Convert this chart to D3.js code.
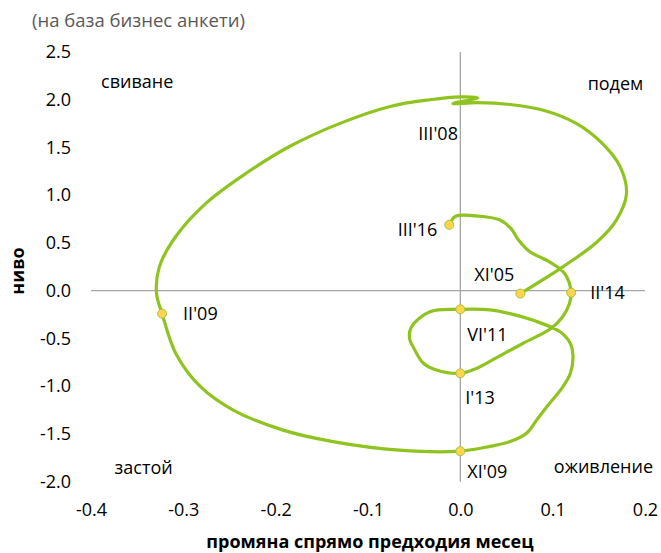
<html>
<head>
<meta charset="utf-8">
<title>Business cycle clock</title>
<script src="https://d3js.org/d3.v7.min.js"></script>
<style>
body { margin: 0; background: white; }
text { font-family: "Open Sans", "Noto Sans", sans-serif; fill: #000; }
</style>
</head>
<body>
<svg id="chart" width="661" height="553"></svg>
<script>
// change vs previous month (x) and level (y)
var changeX = [0.065, 0.111, 0.148, 0.169, 0.180, 0.173, 0.154, 0.126, 0.090, 0.054, 0.018, -0.008,
  0.019, 0.000, -0.033, -0.076, -0.131, -0.185, -0.232, -0.275, -0.308, -0.326, -0.329, -0.323,
  -0.308, -0.282, -0.246, -0.192, -0.138, -0.066, 0.000, 0.032, 0.054, 0.072, 0.083, 0.095,
  0.110, 0.119, 0.122, 0.119, 0.108, 0.079, 0.054, 0.032, 0.000, -0.033, -0.053, -0.055,
  -0.051, -0.040, -0.026, 0.000, 0.016, 0.032, 0.068, 0.099, 0.111, 0.118, 0.120, 0.113,
  0.097, 0.075, 0.063, 0.055, 0.043, 0.021, -0.005, -0.012];
var levelY = [-0.03, 0.25, 0.51, 0.74, 1.02, 1.30, 1.54, 1.75, 1.89, 1.95, 1.97, 1.96,
  2.02, 2.03, 2.00, 1.93, 1.75, 1.51, 1.23, 0.92, 0.57, 0.25, -0.03, -0.24,
  -0.66, -1.00, -1.25, -1.46, -1.58, -1.67, -1.68, -1.63, -1.58, -1.49, -1.35, -1.20,
  -1.02, -0.87, -0.69, -0.55, -0.43, -0.31, -0.24, -0.20, -0.195, -0.22, -0.38, -0.50,
  -0.59, -0.76, -0.83, -0.865, -0.82, -0.74, -0.55, -0.39, -0.27, -0.14, -0.02, 0.18,
  0.30, 0.41, 0.53, 0.65, 0.74, 0.78, 0.78, 0.69];

// labelled months (index into the series)
var markIdx = [0, 11, 23, 30, 44, 51, 58, 67];
var markText = ["XI'05", "III'08", "II'09", "XI'09", "VI'11", "I'13", "II'14", "III'16"];
var markShown = [true, false, true, true, true, true, true, true];

var xTicks = [-0.4, -0.3, -0.2, -0.1, 0.0, 0.1, 0.2];
var yTicks = [-2.0, -1.5, -1.0, -0.5, 0.0, 0.5, 1.0, 1.5, 2.0, 2.5];

var quadNames = ["свиване", "подем", "застой", "оживление"];

var svg = d3.select("#chart");
var x = d3.scaleLinear().domain([-0.4, 0.2]).range([91, 645]);
var y = d3.scaleLinear().domain([-2.0, 2.5]).range([481.7, 52]);

var fmt = function(d) { return d.toFixed(1); };

// tick labels
svg.append("g")
    .attr("transform", "translate(91,0)")
    .call(d3.axisLeft(y).tickValues(yTicks).tickFormat(fmt).tickSize(0).tickPadding(20))
    .call(function(g) { g.select(".domain").remove(); })
    .selectAll("text").style("font-size", "18px").attr("fill", "#000");

svg.append("g")
    .attr("transform", "translate(0,481.7)")
    .call(d3.axisBottom(x).tickValues(xTicks).tickFormat(fmt).tickSize(0).tickPadding(22))
    .call(function(g) { g.select(".domain").remove(); })
    .selectAll("text").style("font-size", "18px").attr("fill", "#000");

// cross axes through zero
svg.append("line")
    .attr("x1", x(-0.4)).attr("x2", x(0.2))
    .attr("y1", y(0)).attr("y2", y(0))
    .attr("stroke", "#a6a6a6").attr("stroke-width", 1.3);
svg.append("line")
    .attr("x1", x(0)).attr("x2", x(0))
    .attr("y1", y(2.5)).attr("y2", y(-2.0))
    .attr("stroke", "#a6a6a6").attr("stroke-width", 1.3);

// quadrant names
var quadPos = [[-0.35, 2.185], [0.168, 2.17], [-0.343, -1.857], [0.155, -1.846]];
svg.selectAll(".quad")
    .data(quadNames)
    .enter().append("text")
    .attr("class", "quad")
    .attr("x", function(d, i) { return x(quadPos[i][0]); })
    .attr("y", function(d, i) { return y(quadPos[i][1]); })
    .attr("dy", "0.35em")
    .attr("text-anchor", "middle")
    .style("font-size", "18px")
    .text(function(d) { return d; });

// the curve
var pts = changeX.map(function(v, i) { return [v, levelY[i]]; });
var line = d3.line()
    .x(function(d) { return x(d[0]); })
    .y(function(d) { return y(d[1]); })
    .curve(d3.curveCatmullRom.alpha(0.5));

svg.append("path")
    .datum(pts)
    .attr("d", line)
    .attr("fill", "none")
    .attr("stroke", "#8fc31f")
    .attr("stroke-width", 3.2)
    .attr("stroke-linecap", "round")
    .attr("stroke-linejoin", "round");

// markers
svg.selectAll(".mark")
    .data(markIdx.filter(function(d, i) { return markShown[i]; }))
    .enter().append("circle")
    .attr("class", "mark")
    .attr("cx", function(d) { return x(changeX[d]); })
    .attr("cy", function(d) { return y(levelY[d]); })
    .attr("r", 4.5)
    .attr("fill", "#ffd54f")
    .attr("stroke", "#a6c43a")
    .attr("stroke-width", 1);

// label offsets: dx, dy, anchor
var lblOff = [[-26, -19, "middle"], [5, 30, "end"], [21, 0, "start"], [7, 21, "start"],
  [7, 25, "start"], [5, 24, "start"], [19, 0, "start"], [-12, 5, "end"]];
svg.selectAll(".lbl")
    .data(markIdx)
    .enter().append("text")
    .attr("class", "lbl")
    .attr("x", function(d, i) { return x(changeX[d]) + lblOff[i][0]; })
    .attr("y", function(d, i) { return y(levelY[d]) + lblOff[i][1]; })
    .attr("dy", "0.35em")
    .attr("text-anchor", function(d, i) { return lblOff[i][2]; })
    .style("font-size", "18px")
    .text(function(d, i) { return markText[i]; });

// titles
svg.append("text")
    .attr("x", 32).attr("y", 27)
    .style("font-size", "18.5px")
    .style("fill", "#595959")
    .text("(на база бизнес анкети)");

svg.append("text")
    .attr("transform", "translate(18,271) rotate(-90)")
    .attr("dy", "0.35em")
    .attr("text-anchor", "middle")
    .style("font-size", "18px")
    .style("font-weight", "bold")
    .text("ниво");

svg.append("text")
    .attr("x", 370).attr("y", 542)
    .attr("dy", "0.35em")
    .attr("text-anchor", "middle")
    .style("font-size", "18px")
    .style("font-weight", "bold")
    .text("промяна спрямо предходия месец");
</script>
</body>
</html>
